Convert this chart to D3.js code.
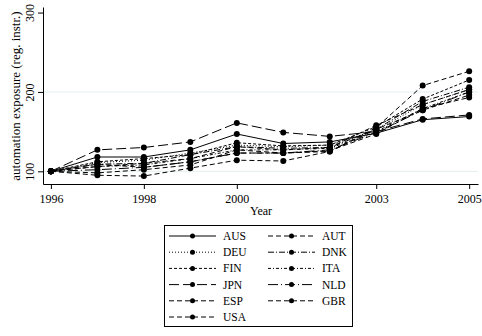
<!DOCTYPE html>
<html>
<head>
<meta charset="utf-8">
<script src="https://cdn.jsdelivr.net/npm/d3@7"></script>
<style>
  body { margin: 0; background: #fff; }
  svg { display: block; }
  svg text { font-family: "Liberation Serif", "Times New Roman", serif; fill: #000; }
</style>
</head>
<body>
<div id="chart"></div>
<script>
// years on the x axis
const years = [1996, 1997, 1998, 1999, 2000, 2001, 2002, 2003, 2004, 2005];
const xTicks = [1996, 1998, 2000, 2003, 2005];
const yTicks = [100, 200, 300];

// country codes in legend order
const countries = ["AUS", "AUT", "DEU", "DNK", "FIN", "ITA", "JPN", "NLD", "ESP", "GBR", "USA"];

// automation exposure per country
const AUS = [100, 118, 118, 127, 147, 135, 137, 148, 165, 169];
const AUT = [100, 95, 94, 104, 114, 113, 125, 155, 208, 226];
const DEU = [100, 111, 114, 123, 133, 131, 133, 152, 184, 203];
const DNK = [100, 109, 110, 121, 131, 129, 130, 153, 188, 206];
const FIN = [100, 112, 116, 121, 136, 132, 133, 156, 191, 215];
const ITA = [100, 106, 108, 116, 127, 127, 129, 150, 179, 200];
const JPN = [100, 127, 130, 137, 161, 149, 144, 150, 166, 171];
const NLD = [100, 102, 105, 112, 123, 123, 127, 149, 177, 200];
const ESP = [100, 98, 102, 108, 127, 123, 126, 147, 179, 193];
const GBR = [100, 106, 110, 116, 131, 127, 130, 158, 184, 203];
const USA = [100, 109, 105, 112, 123, 123, 125, 153, 177, 196];

const values = { AUS, AUT, DEU, DNK, FIN, ITA, JPN, NLD, ESP, GBR, USA };

// line patterns (stata-ish)
const dashes = {
  AUS: null, AUT: "5,3", DEU: "1,2", DNK: "6,2,1,2", FIN: "3,2",
  ITA: "3,2,1,2", JPN: "10,4", NLD: "10,3,1,3", ESP: "5,3", GBR: "5,3", USA: "5,3"
};

const width = 482, height = 336;
const svg = d3.select("#chart").append("svg")
  .attr("width", width)
  .attr("height", height);

const x = d3.scaleLinear().domain([1995.83, 2005.19]).range([43, 478]);
const y = d3.scaleLinear().domain([84, 307]).range([184, 7]);

// light grid lines
svg.append("g")
  .selectAll("line")
  .data([100, 200])
  .enter().append("line")
  .attr("x1", 44).attr("x2", 478)
  .attr("y1", d => y(d)).attr("y2", d => y(d))
  .attr("stroke", "#e3eff1")
  .attr("stroke-width", 1);

// axes
const xAxis = svg.append("g")
  .attr("transform", "translate(0,184)")
  .call(d3.axisBottom(x).tickValues(xTicks).tickFormat(d3.format("d")).tickSizeInner(5).tickSizeOuter(0));
xAxis.selectAll("text").attr("font-size", 12).attr("dy", "0.9em");

const yAxis = svg.append("g")
  .attr("transform", "translate(43,0)")
  .call(d3.axisLeft(y).tickValues(yTicks).tickSizeInner(5).tickSizeOuter(0));
yAxis.selectAll("text")
  .attr("font-size", 12)
  .attr("x", null).attr("dy", null)
  .attr("text-anchor", "middle")
  .attr("transform", "translate(-9,0) rotate(-90)");

svg.selectAll(".domain, .tick line").attr("stroke", "#000").attr("stroke-width", 1);

// axis titles
svg.append("text")
  .attr("x", 261).attr("y", 215)
  .attr("text-anchor", "middle")
  .attr("font-size", 12)
  .text("Year");

svg.append("text")
  .attr("transform", "translate(20,96) rotate(-90)")
  .attr("text-anchor", "middle")
  .attr("font-size", 13)
  .text("automation exposure (reg. instr.)");

// series lines and markers
const line = d3.line().x((d, i) => x(years[i])).y(d => y(d));

countries.forEach(c => {
  svg.append("path")
    .datum(values[c])
    .attr("d", line)
    .attr("fill", "none")
    .attr("stroke", "#000")
    .attr("stroke-width", 1)
    .attr("stroke-dasharray", dashes[c]);
  svg.append("g")
    .selectAll("circle")
    .data(values[c])
    .enter().append("circle")
    .attr("cx", (d, i) => x(years[i]))
    .attr("cy", d => y(d))
    .attr("r", 3)
    .attr("fill", "#000");
});

// legend
const legend = svg.append("g");
legend.append("rect")
  .attr("x", 164.5).attr("y", 225.5)
  .attr("width", 188).attr("height", 101)
  .attr("fill", "#fff").attr("stroke", "#000").attr("stroke-width", 1);

countries.forEach((c, i) => {
  const col = i % 2, row = Math.floor(i / 2);
  const lx = col === 0 ? 169 : 268;
  const ly = 236 + row * 16.2;
  const g = legend.append("g");
  g.append("line")
    .attr("x1", lx).attr("x2", lx + 47)
    .attr("y1", ly).attr("y2", ly)
    .attr("stroke", "#000").attr("stroke-width", 1)
    .attr("stroke-dasharray", dashes[c]);
  g.append("circle")
    .attr("cx", lx + 23.5).attr("cy", ly).attr("r", 2.5).attr("fill", "#000");
  g.append("text")
    .attr("x", lx + 54).attr("y", ly)
    .attr("dy", "0.35em")
    .attr("font-size", 11.5)
    .text(c);
});
</script>
</body>
</html>
